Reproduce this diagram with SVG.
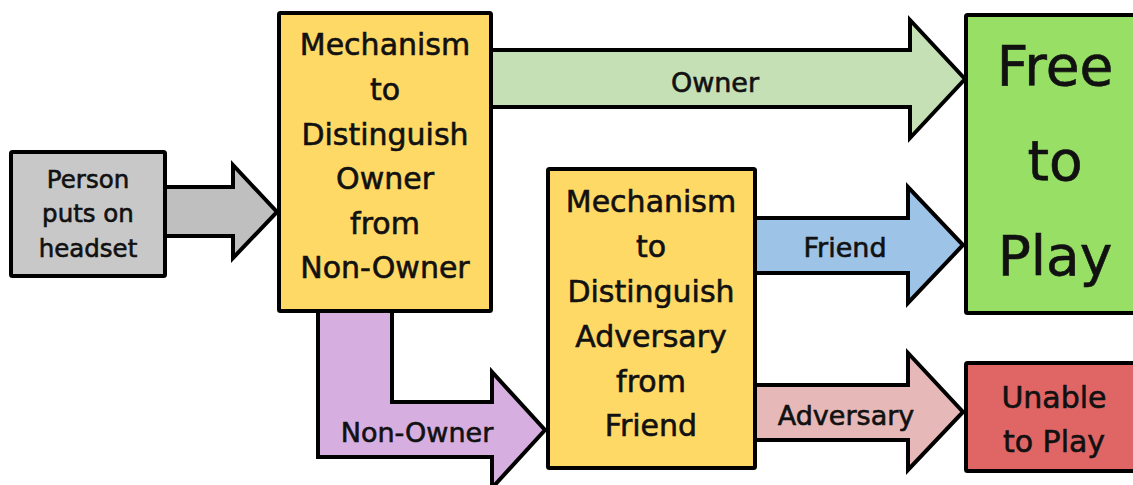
<svg xmlns="http://www.w3.org/2000/svg" width="1133" height="485" viewBox="0 0 1133 485">
<style>
.s{stroke:#000;stroke-width:4;stroke-linejoin:miter}
rect.s{rx:1.5}
text{font-family:"DejaVu Sans",sans-serif;fill:#111;stroke:#111;stroke-width:0.6;text-anchor:middle}
.b{font-size:30px}
.l{font-size:27px}
</style>
<rect width="1133" height="485" fill="#fff"/>
<g id="connectors">
<g id="c-person"><polygon class="s" fill="#bfbfbf" points="165,187 233,187 233,165 277,212 233,258 233,236 165,236"/></g>
<g id="c-owner"><polygon class="s" fill="#c5e0b4" points="491,50 910,50 910,20 965,79 910,138 910,107 491,107"/><text class="l" x="715" y="92">Owner</text></g>
<g id="c-nonowner"><polygon class="s" fill="#d7aee0" points="318,311 392,311 392,402 492,402 492,372 545,430 492,488 492,457 318,457"/><text class="l" x="417" y="442">Non-Owner</text></g>
<g id="c-friend"><polygon class="s" fill="#9dc3e6" points="755,218 908,218 908,187 963,245 908,303 908,273 755,273"/><text class="l" x="845" y="257">Friend</text></g>
<g id="c-adversary"><polygon class="s" fill="#e6b9b8" points="755,385 908,385 908,353 963,412 908,470 908,440 755,440"/><text class="l" x="846" y="425">Adversary</text></g>
</g>
<g id="person">
<rect class="s" fill="#c8c8c8" x="11" y="152" width="154" height="124"/>
<text style="font-size:24.5px" x="88" y="188">Person</text>
<text style="font-size:24.5px" x="88" y="222">puts on</text>
<text style="font-size:24.5px" x="88" y="257">headset</text>
</g>
<g id="mech1">
<rect class="s" fill="#ffd966" x="279" y="13" width="212" height="298"/>
<text class="b" x="385" y="55">Mechanism</text>
<text class="b" x="385" y="100">to</text>
<text class="b" x="385" y="145">Distinguish</text>
<text class="b" x="385" y="189">Owner</text>
<text class="b" x="385" y="234">from</text>
<text class="b" x="385" y="278">Non-Owner</text>
</g>
<g id="mech2">
<rect class="s" fill="#ffd966" x="548" y="169" width="207" height="299"/>
<text class="b" x="651" y="212">Mechanism</text>
<text class="b" x="651" y="257">to</text>
<text class="b" x="651" y="302">Distinguish</text>
<text class="b" x="651" y="347">Adversary</text>
<text class="b" x="651" y="392">from</text>
<text class="b" x="651" y="436">Friend</text>
</g>
<g id="free">
<rect class="s" fill="#98e065" x="966" y="15" width="180" height="298"/>
<text style="font-size:55px" x="1055" y="85">Free</text>
<text style="font-size:55px" x="1055" y="180">to</text>
<text style="font-size:55px" x="1055" y="275">Play</text>
</g>
<g id="unable">
<rect class="s" fill="#e06666" x="966" y="363" width="180" height="108"/>
<text class="b" x="1054" y="408">Unable</text>
<text class="b" x="1054" y="452">to Play</text>
</g>
</svg>
